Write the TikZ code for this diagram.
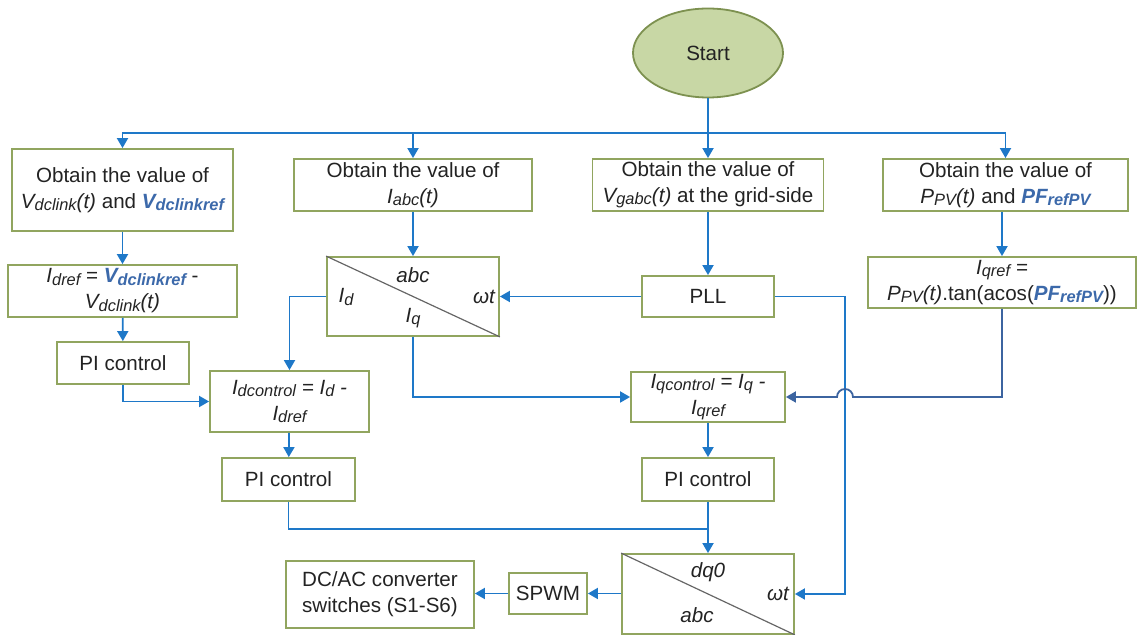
\documentclass[tikz,border=0pt]{standalone}
\usepackage{fontspec}
\setmainfont{Liberation Sans}
\usetikzlibrary{arrows.meta,shapes.geometric}
\definecolor{ln}{RGB}{30,120,200}
\definecolor{lnb}{RGB}{60,100,160}
\definecolor{bx}{RGB}{145,165,95}
\definecolor{stf}{RGB}{200,215,165}
\definecolor{sted}{RGB}{125,145,80}
\definecolor{bl}{RGB}{60,105,170}
\definecolor{tx}{RGB}{35,35,35}
\newcommand\lsub[1]{\raisebox{-0.2ex}{\fontsize{8.2}{9}\selectfont #1}}
\newcommand\bv[1]{\textcolor{bl}{\bfseries\itshape #1}}
\newcommand\fs{\fontsize{10.3}{13}\selectfont}
\begin{document}
\begin{tikzpicture}[x=0.5pt,y=-0.5pt,
  bxs/.style 2 args={draw=bx, line width=0.9pt, minimum width=#1*0.5pt, minimum height=#2*0.5pt, inner sep=0pt, align=center, text=tx, font=\fs},
  lbl/.style={inner sep=0pt, text=tx, font=\fs\itshape},
  conn/.style={draw=ln, line width=0.9pt},
  arr/.style={conn, -{Triangle[length=5pt,width=5.5pt]}},
  diag/.style={draw=gray!80!black, line width=0.6pt}]
\useasboundingbox (0,0) rectangle (1137,635);
% nodes
\node[ellipse, draw=sted, fill=stf, line width=0.9pt, minimum width=75pt, minimum height=44.5pt, inner sep=0pt, text=tx, font=\fs] (start) at (708,53) {Start};
\node[bxs={221}{82}] (b1) at (122.5,190) {Obtain the value of\\ {\itshape V\lsub{dclink}(t)} and \bv{V\lsub{dclinkref}}};
\node[bxs={238}{52}] (b2) at (413,185) {Obtain the value of\\ {\itshape I\lsub{abc}(t)}};
\node[bxs={231}{52}] (b3) at (708,185) {Obtain the value of\\ {\itshape V\lsub{gabc}(t)} at the grid-side};
\node[bxs={245}{52}] (b4) at (1005.5,185) {Obtain the value of\\ {\itshape P\lsub{PV}(t)} and \bv{PF\lsub{refPV}}};
\node[bxs={229}{52}] (idref) at (122.5,291) {{\itshape I\lsub{dref}} = \bv{V\lsub{dclinkref}} -\\ {\itshape V\lsub{dclink}(t)}};
\node[bxs={132}{42}] (pi1) at (123,363) {PI control};
\node[bxs={172}{79}] (abc) at (413,296.5) {};
\node[bxs={132}{41}] (pll) at (708,296.5) {PLL};
\node[bxs={268}{51}] (iqref) at (1002,282.5) {{\itshape I\lsub{qref} =}\\ {\itshape P\lsub{PV}(t)}.tan(acos(\bv{PF\lsub{refPV}}))};
\node[bxs={159}{61}] (idc) at (289.5,401.5) {{\itshape I\lsub{dcontrol} = I\lsub{d} -}\\ {\itshape I\lsub{dref}}};
\node[bxs={154}{50}] (iqc) at (708,397) {{\itshape I\lsub{qcontrol} = I\lsub{q} -}\\ {\itshape I\lsub{qref}}};
\node[bxs={133}{43}] (pi2) at (288.5,479.5) {PI control};
\node[bxs={132}{43}] (pi3) at (708,479.5) {PI control};
\node[bxs={172}{80}] (dq) at (708,594) {};
\node[bxs={78}{41}] (spwm) at (548,593.5) {SPWM};
\node[bxs={188}{67}] (dcac) at (380,594.5) {DC/AC converter\\ switches (S1-S6)};
% transform box contents
\draw[diag] (abc.north west) -- (abc.south east);
\node[lbl] (abct) at (413,275) {abc};
\node[lbl] (abcd) at (346,297) {I\lsub{d}};
\node[lbl] (abcw) at (484,297) {ωt};
\node[lbl] (abcq) at (413,318) {I\lsub{q}};
\draw[diag] (dq.north west) -- (dq.south east);
\node[lbl] (dqt) at (708,572) {dq0};
\node[lbl] (dqw) at (778,594) {ωt};
\node[lbl] (dqb) at (697,615) {abc};
% coordinates
\coordinate (bus) at (708,133);
\coordinate (vx) at (845,0);
\coordinate (join) at (708,529);
\coordinate (iqturn) at (iqref.south |- iqc.east);
\coordinate (jr) at (853,397);
% connectors
\draw[conn] (start.south) -- (bus);
\draw[arr] (bus) -| (b1);
\draw[arr] (bus) -| (b2);
\draw[arr] (bus) -- (b3);
\draw[arr] (bus) -| (b4);
\draw[arr] (b1) -- (idref);
\draw[arr] (idref) -- (pi1);
\draw[arr] (pi1.south) |- (idc.west);
\draw[arr] (b2) -- (abc);
\draw[arr] (abc.west) -| (idc.north);
\draw[arr] (abc.south) |- (iqc.west);
\draw[arr] (b3) -- (pll);
\draw[arr] (pll.west) -- (abc.east);
\draw[arr] (pll.east) -- (pll.east -| vx) |- (dq.east);
\draw[arr] (b4.south -| iqref.north) -- (iqref.north);
\draw[arr, draw=lnb] (iqref.south) -- (iqturn) -- (jr) arc[start angle=0, end angle=-180, radius=8] -- (iqc.east);
\draw[arr] (idc) -- (pi2);
\draw[arr] (iqc) -- (pi3);
\draw[conn] (pi2.south) |- (join);
\draw[arr] (pi3) -- (dq);
\draw[arr] (dq.west |- spwm.east) -- (spwm.east);
\draw[arr] (spwm.west) -- (spwm.west -| dcac.east);
\end{tikzpicture}
\end{document}
